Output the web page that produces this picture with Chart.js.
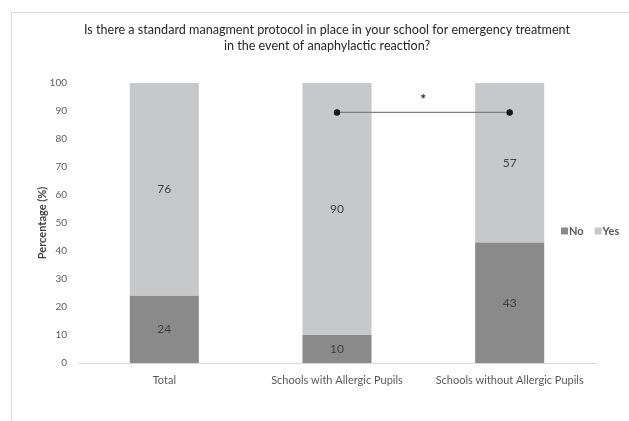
<!DOCTYPE html>
<html lang="en">
<head>
    <meta charset="UTF-8">
    <title>Anaphylaxis protocol</title>
    <script src="https://cdn.jsdelivr.net/npm/chart.js"></script>
    <style>
        html, body { margin: 0; padding: 0; background: #fff; }
        #wrap { width: 629px; height: 421px; }
    </style>
</head>
<body>
    <div id="wrap"><canvas id="chart"></canvas></div>

    <script>
        const categories = ["Total", "Schools with Allergic Pupils", "Schools without Allergic Pupils"];
        const noValues = [24, 10, 43];
        const yesValues = [76, 90, 57];
        const yTicks = [0, 10, 20, 30, 40, 50, 60, 70, 80, 90, 100];
        // significance bracket between the two school groups
        const sigLevel = [null, 89.5, 89.5];
        const sigMarkValue = 95;
        const sigMark = "*";
        const titleLines = [
            "Is there a standard managment protocol in place in your school for emergency treatment",
            "in the event of anaphylactic reaction?"
        ];

        const FONT = "Lato, 'Open Sans', sans-serif";
        const colNo = "#8a8a8a";
        const colYes = "#c7c8ca";

        // frame, title, bar labels, asterisk and legend drawn on the canvas
        const extras = {
            id: "extras",
            beforeDraw(chart) {
                const ctx = chart.ctx;
                ctx.save();
                ctx.strokeStyle = "#d9d9d9";
                ctx.lineWidth = 1;
                ctx.strokeRect(11.5, 12.5, 700, 500);
                ctx.font = "12.6px " + FONT;
                ctx.fillStyle = "#262626";
                ctx.textAlign = "center";
                ctx.textBaseline = "middle";
                titleLines.forEach((t, i) => ctx.fillText(t, 327, 30 + i * 16));
                ctx.restore();
            },
            afterDatasetsDraw(chart) {
                const ctx = chart.ctx;
                const x = chart.scales.x, y = chart.scales.y;
                ctx.save();
                ctx.font = "12px " + FONT;
                ctx.fillStyle = "#404040";
                ctx.textAlign = "center";
                ctx.textBaseline = "middle";
                [0, 1].forEach(di => {
                    const vals = chart.data.datasets[di].data;
                    chart.getDatasetMeta(di).data.forEach((bar, i) => {
                        ctx.fillText(vals[i], bar.x, (bar.y + bar.base) / 2);
                    });
                });
                // asterisk
                const mx = (x.getPixelForValue(1) + x.getPixelForValue(2)) / 2;
                ctx.font = "bold 14px " + FONT;
                ctx.fillStyle = "#262626";
                ctx.fillText(sigMark, mx, y.getPixelForValue(sigMarkValue) + 2);

                // legend
                let lx = chart.chartArea.right - 35;
                const ly = 231;
                ctx.font = "bold 11px " + FONT;
                ctx.textAlign = "left";
                [0, 1].forEach(di => {
                    const ds = chart.data.datasets[di];
                    ctx.fillStyle = ds.backgroundColor;
                    ctx.fillRect(lx, ly - 3.5, 7, 7);
                    ctx.fillStyle = "#595959";
                    ctx.fillText(ds.label, lx + 8, ly);
                    lx += 8 + ctx.measureText(ds.label).width + 11;
                });
                ctx.restore();
            }
        };

        new Chart(document.getElementById("chart"), {
            type: "bar",
            data: {
                labels: categories,
                datasets: [
                    { label: "No", data: noValues, backgroundColor: colNo, stack: "s", order: 2 },
                    { label: "Yes", data: yesValues, backgroundColor: colYes, stack: "s", order: 2 },
                    {
                        type: "line", label: "sig", data: sigLevel, stack: "sig", order: 1,
                        borderColor: "#7f7f7f", borderWidth: 1.25,
                        pointBackgroundColor: "#1a1a1a", pointBorderColor: "#1a1a1a",
                        pointRadius: 2.6, spanGaps: false
                    }
                ]
            },
            options: {
                responsive: true,
                maintainAspectRatio: false,
                animation: false,
                datasets: { bar: { barPercentage: 0.4, categoryPercentage: 1 } },
                layout: { padding: { top: 83, right: 33, bottom: 0, left: 0 } },
                plugins: {
                    legend: { display: false },
                    tooltip: { enabled: false }
                },
                scales: {
                    x: {
                        stacked: true,
                        grid: { display: false, drawTicks: false },
                        border: { color: "#d9d9d9", width: 1 },
                        ticks: { color: "#595959", font: { family: FONT, size: 11 }, padding: 11, maxRotation: 0 },
                        afterFit(scale) { scale.height = 58; }
                    },
                    y: {
                        stacked: true,
                        min: 0,
                        max: 100,
                        grid: { display: false, drawTicks: false },
                        border: { display: false },
                        afterBuildTicks(scale) { scale.ticks = yTicks.map(v => ({ value: v })); },
                        ticks: { color: "#595959", font: { family: FONT, size: 10 }, padding: 11 },
                        title: {
                            display: true,
                            text: "Percentage (%)",
                            color: "#404040",
                            font: { family: FONT, size: 11, weight: "bold" },
                            padding: { top: 36, bottom: 0 }
                        },
                        afterFit(scale) { scale.width = 78; }
                    }
                }
            },
            plugins: [extras]
        });
    </script>
</body>
</html>
